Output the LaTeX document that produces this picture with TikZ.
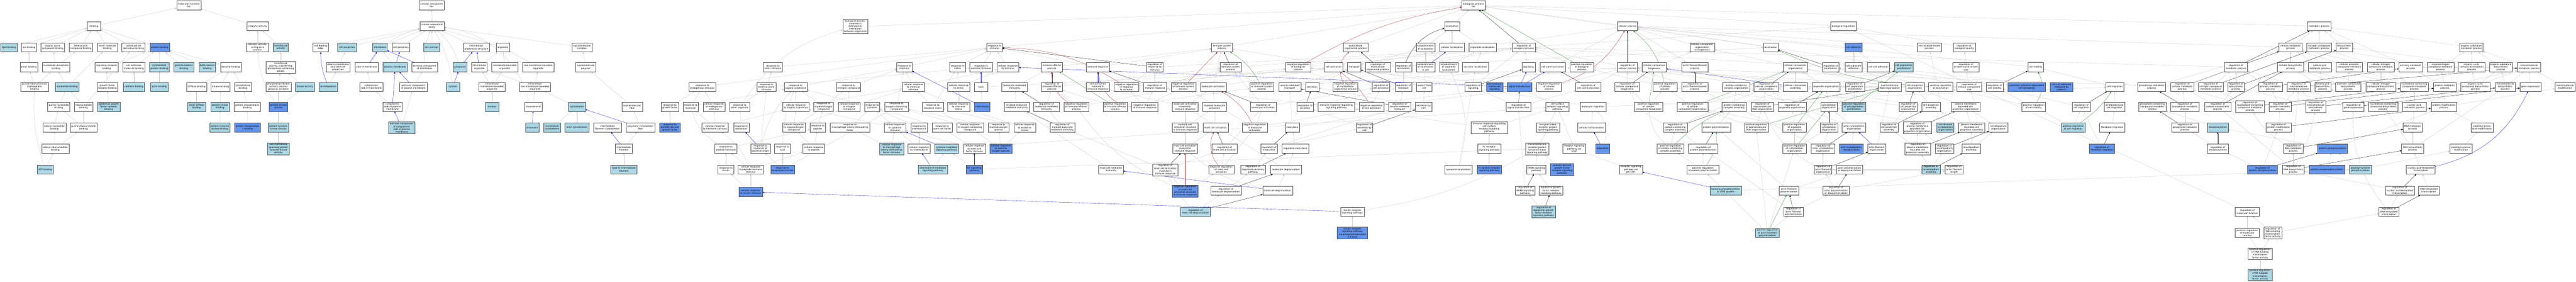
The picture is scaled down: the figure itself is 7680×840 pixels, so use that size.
\documentclass[tikz,border=0pt]{standalone}
\usepackage{fontspec}
\setmainfont{DejaVu Sans}
\usetikzlibrary{arrows.meta}
\definecolor{lblue}{HTML}{ADD8E6}
\definecolor{cblue}{HTML}{6495ED}
\definecolor{egray}{HTML}{C4C4C4}
\definecolor{fred}{HTML}{B22222}
\definecolor{fgreen}{HTML}{228B22}
\tikzstyle{term} = [draw=black!70, line width=0.7pt, fill=white, rectangle, minimum height=27pt, inner xsep=1.5pt, inner ysep=0.5pt, align=center, font=\fontsize{6.8}{7.9}\selectfont]
\tikzstyle{lhit} = [term, fill=lblue]
\tikzstyle{dhit} = [term, fill=cblue]
\tikzstyle{four} = [minimum height=35pt]
\tikzstyle{five} = [minimum height=43pt]
\tikzset{wd/.style={minimum width=#1}}
\tikzstyle{isa} = [draw=egray, line width=0.5pt, -{Triangle[length=5pt,width=4pt]}]
\tikzstyle{partof} = [isa, draw=blue]
\tikzstyle{regs} = [isa, draw=black]
\tikzstyle{negregs} = [isa, draw=fred]
\tikzstyle{posregs} = [isa, draw=fgreen]
\pgfdeclarelayer{back}
\pgfsetlayers{back,main}
\begin{document}
\begin{tikzpicture}[x=1pt,y=-1pt]
\useasboundingbox (0,0) rectangle (7680,840);
% molecular function
\node [term, wd=73] (mf) at (563,16) {molecular\_function\\Fer};
\node [term, wd=40] (bind) at (280,78) {binding};
\node [term, wd=65] (cat) at (768,78) {catalytic activity};
\node [lhit, wd=48] (lipidb) at (26.5,141) {lipid binding};
\node [term, wd=44] (ionb) at (86,141) {ion binding};
\node [term, wd=71] (orgcyc) at (157,141) {organic cyclic\\compound binding};
\node [term, wd=70] (hetcyc) at (241,141) {heterocyclic\\compound binding};
\node [term, wd=60] (smallmol) at (320,141) {small molecule\\binding};
\node [term, wd=69] (carbder) at (398,141) {carbohydrate\\derivative binding};
\node [dhit, wd=58] (protb) at (476,141) {protein binding};
\node [term, wd=66] (catprot) at (768,141) {catalytic activity,\\acting on a\\protein};
\node [lhit, wd=45] (transf) at (837,141) {transferase\\activity};
\node [term, wd=52] (anionb) at (86,200) {anion binding};
\node [term, wd=82] (nucphos) at (167,200) {nucleoside phosphate\\binding};
\node [term, wd=69] (sigrecb) at (318,200) {signaling receptor\\binding};
\node [term, wd=66] (celladhmb) at (399,200) {cell adhesion\\molecule binding};
\node [lhit, wd=58] (cytoskpb) at (475,200) {cytoskeletal\\protein binding};
\node [lhit, wd=61] (gammacat) at (548,200) {gamma-catenin\\binding};
\node [lhit, wd=50] (deltacat) at (618,200) {delta-catenin\\binding};
\node [term, wd=62] (enzb) at (688,200) {enzyme binding};
\node [term, four, wd=87] (transfp) at (837,201) {transferase\\activity, transferring\\phosphorus-containing\\groups};
\node [term, wd=82] (purtri) at (103,259) {purine ribonucleoside\\triphosphate\\binding};
\node [lhit, wd=71] (nucb) at (200,259) {nucleotide binding};
\node [term, wd=62] (gfrb) at (320,259) {growth factor\\receptor binding};
\node [lhit, wd=64] (cadb) at (399,259) {cadherin binding};
\node [lhit, wd=51] (actinb) at (475,259) {actin binding};
\node [term, wd=60] (gtpb) at (586,259) {GTPase binding};
\node [term, wd=57] (kinb) at (657.5,259) {kinase binding};
\node [term, wd=50] (phosb) at (724.5,259) {phosphatase\\binding};
\node [term, wd=75] (phtrans) at (830,259) {phosphotransferase\\activity, alcohol\\group as acceptor};
\node [lhit, wd=58] (kinact) at (909,259) {kinase activity};
\node [term, wd=66] (purnb) at (175,318) {purine nucleotide\\binding};
\node [term, wd=56] (ribnb) at (249,318) {ribonucleotide\\binding};
\node [lhit, wd=68] (egfrb) at (324,318) {epidermal growth\\factor receptor\\binding};
\node [lhit, wd=53] (sgtpb) at (586,318) {small GTPase\\binding};
\node [lhit, wd=55] (pkb) at (656,318) {protein kinase\\binding};
\node [term, wd=78] (pphb) at (737,318) {protein phosphatase\\binding};
\node [dhit, wd=55] (pkact) at (830,318) {protein kinase\\activity};
\node [term, wd=69] (adenb) at (162,380) {adenyl nucleotide\\binding};
\node [term, wd=80] (purrnb) at (249,380) {purine ribonucleotide\\binding};
\node [lhit, wd=61] (ptkb) at (655.5,380) {protein tyrosine\\kinase binding};
\node [dhit, wd=77] (pp1b) at (738,380) {protein phosphatase\\1 binding};
\node [lhit, wd=61] (ptkact) at (830,380) {protein tyrosine\\kinase activity};
\node [term, wd=82] (adenrb) at (165,443) {adenyl ribonucleotide\\binding};
\node [lhit, four, wd=64] (nmsptk) at (830,443) {non-membrane\\spanning protein\\tyrosine kinase\\activity};
\node [lhit, wd=47] (atpb) at (135,505) {ATP binding};
% cellular component
\node [term, wd=75] (cc) at (1287,16) {cellular\_component\\Fer};
\node [term, wd=73] (cae) at (1288,78) {cellular anatomical\\entity};
\node [term, wd=46] (leadedge) at (956,141) {cell leading\\edge};
\node [lhit, wd=56] (cellproj) at (1035,141) {cell projection};
\node [lhit, wd=43] (memb) at (1133,141) {membrane};
\node [term, wd=52] (periph) at (1195,141) {cell periphery};
\node [lhit, wd=48] (junction) at (1287,141) {cell junction};
\node [term, wd=79] (ias) at (1420,141) {intracellular\\anatomical structure};
\node [term, wd=40] (organelle) at (1499,141) {organelle};
\node [term, wd=60] (supcomp) at (1735,141) {supramolecular\\complex};
\node [term, wd=72] (pmbcp) at (1008,200) {plasma membrane\\bounded cell\\projection};
\node [term, wd=70] (sidemem) at (1093,200) {side of membrane};
\node [lhit, wd=72] (pm) at (1178,200) {plasma membrane};
\node [term, wd=78] (extmem) at (1266,200) {extrinsic component\\of membrane};
\node [lhit, wd=42] (cytoplasm) at (1371,200) {cytoplasm};
\node [term, wd=45] (intorg) at (1429,200) {intracellular\\organelle};
\node [term, wd=78] (mborg) at (1505,200) {membrane-bounded\\organelle};
\node [term, wd=93] (nmborg) at (1604.5,200) {non-membrane-bounded\\organelle};
\node [term, wd=60] (suppoly) at (1746.5,200) {supramolecular\\polymer};
\node [lhit, wd=56] (lamelli) at (979,259) {lamellipodium};
\node [term, wd=70] (cytside) at (1107,259) {cytoplasmic\\side of membrane};
\node [term, wd=82] (extpm) at (1232,259) {extrinsic component\\of plasma membrane};
\node [lhit, wd=40] (cytosol) at (1350,259) {cytosol};
\node [term, wd=78] (imborg) at (1467,259) {intracellular\\membrane-bounded\\organelle};
\node [term, wd=93] (inmborg) at (1595,259) {intracellular\\non-membrane-bounded\\organelle};
\node [term, wd=57] (cytsidepm) at (1170,318) {cytoplasmic\\side of plasma\\membrane};
\node [lhit, wd=40] (nucleus) at (1467,318) {nucleus};
\node [term, wd=51] (chromosome) at (1590,318) {chromosome};
\node [lhit, wd=50] (cytoskel) at (1720,318) {cytoskeleton};
\node [term, wd=60] (supfib) at (1885,318) {supramolecular\\fiber};
\node [lhit, four, wd=78] (extcytpm) at (1197.5,381) {extrinsic component\\of cytoplasmic\\side of plasma\\membrane};
\node [lhit, wd=40] (chromatin) at (1587,380) {chromatin};
\node [lhit, wd=51] (mtcyto) at (1646,380) {microtubule\\cytoskeleton};
\node [lhit, wd=71] (actcyto) at (1720,380) {actin cytoskeleton};
\node [term, wd=83] (ifcyto) at (1811,380) {intermediate\\filament cytoskeleton};
\node [term, wd=86] (polycyto) at (1909,380) {polymeric cytoskeletal\\fiber};
\node [term, wd=51] (interfil) at (1860,443) {intermediate\\filament};
\node [lhit, wd=78] (type3if) at (1860,505) {type III intermediate\\filament};
% biological process: responses
\node [term, five, wd=75] (interspec) at (2550,79) {biological process\\involved in\\interspecies\\interaction\\between organisms};
\node [term, wd=57] (rbiotic) at (2304,200) {response to\\biotic stimulus};
\node [term, wd=81] (rendo) at (2094,259) {response to\\endogenous stimulus};
\node [term, wd=56] (rextbio) at (2285,259) {response to\\external biotic\\stimulus};
\node [term, wd=69] (rorgsub) at (2372,259) {response to\\organic substance};
\node [term, wd=72] (rnitro) at (2530,259) {response to\\nitrogen compound};
\node [term, wd=53] (rgf) at (1997,318) {response to\\growth factor};
\node [term, wd=45] (rhorm) at (2059,318) {response to\\hormone};
\node [term, wd=65] (crendo) at (2129,318) {cellular response\\to endogenous\\stimulus};
\node [term, wd=59] (rother) at (2205,318) {response to\\other organism};
\node [term, wd=79] (crorgsub) at (2373,318) {cellular response\\to organic substance};
\node [term, wd=59] (rorgn) at (2455,318) {response to\\organonitrogen\\compound};
\node [term, wd=65] (crnitro) at (2531.5,318) {cellular response\\to nitrogen\\compound};
\node [dhit, wd=61] (rpdgf) at (1997,380) {response to\\platelet-derived\\growth factor};
\node [term, wd=78] (crhorm) at (2132,380) {cellular response\\to hormone stimulus};
\node [term, wd=46] (rbact) at (2210,380) {response to\\bacterium};
\node [term, wd=68] (crorgn) at (2367,380) {cellular response\\to organonitrogen\\compound};
\node [term, wd=47] (rpep) at (2438,380) {response to\\peptide};
\node [term, wd=119] (rmcsf) at (2534,380) {response to\\macrophage colony-stimulating\\factor};
\node [term, wd=66] (rpephorm) at (2164,443) {response to\\peptide hormone};
\node [term, wd=58] (rmbo) at (2267,443) {response to\\molecule of\\bacterial origin};
\node [term, wd=47] (rlipid) at (2333,443) {response to\\lipid};
\node [term, wd=65] (crpep) at (2426,443) {cellular response\\to peptide};
\node [term, wd=47] (rins) at (2164,505) {response to\\insulin};
\node [term, wd=75] (crpephorm) at (2238,505) {cellular response\\to peptide hormone\\stimulus};
\node [dhit, wd=71] (rlps) at (2333,505) {response to\\lipopolysaccharide};
\node [dhit, wd=70] (crins) at (2238,572) {cellular response\\to insulin stimulus};
\node [term, wd=46] (rstim) at (2965,141) {response to\\stimulus};
\node [term, wd=46] (rchem) at (2696,200) {response to\\chemical};
\node [term, wd=47] (rstress) at (2855,200) {response to\\stress};
\node [term, wd=67] (rext) at (2925,200) {response to\\external stimulus};
\node [term, wd=65] (crstim) at (3005,200) {cellular response\\to stimulus};
\node [term, wd=64] (immeff) at (3136,200) {immune effector\\process};
\node [term, wd=66] (crchem) at (2723,259) {cellular response\\to chemical\\stimulus};
\node [term, wd=65] (crstress) at (2858,259) {cellular response\\to stress};
\node [term, wd=40] (taxis) at (2925,259) {taxis};
\node [term, wd=76] (leukmed) at (3025,259) {leukocyte mediated\\immunity};
\node [term, wd=64] (regimmeff) at (3136,259) {regulation of\\immune effector\\process};
\node [term, wd=46] (rcyto) at (2600,318) {response to\\cytokine};
\node [term, wd=70] (roxy) at (2673,318) {response to\\oxygen-containing\\compound};
\node [term, wd=62] (roxstress) at (2781,318) {response to\\oxidative stress};
\node [term, wd=65] (crchemstress) at (2858,318) {cellular response\\to chemical\\stress};
\node [dhit, wd=46] (chemotaxis) at (2928,318) {chemotaxis};
\node [term, wd=75] (myelmed) at (3031,318) {myeloid leukocyte\\mediated immunity};
\node [term, wd=76] (regleukmed) at (3120,318) {regulation of\\leukocyte mediated\\immunity};
\node [term, wd=75] (negimmeff) at (3209,318) {negative regulation\\of immune effector\\process};
\node [term, wd=65] (crcyto) at (2668,380) {cellular response\\to cytokine\\stimulus};
\node [term, wd=49] (ril6) at (2740,380) {response to\\interleukin-6};
\node [term, wd=60] (rscf) at (2809,380) {response to\\stem cell factor};
\node [term, wd=80] (croxy) at (2892,380) {cellular response\\to oxygen-containing\\compound};
\node [term, wd=61] (rros) at (2977,380) {response to\\reactive oxygen\\species};
\node [term, wd=65] (croxstress) at (3055,380) {cellular response\\to oxidative\\stress};
\node [term, wd=74] (regmyelmed) at (3167,380) {regulation of\\myeloid leukocyte\\mediated immunity};
\node [lhit, four, wd=72] (crmcsf) at (2658,443) {cellular response\\to macrophage\\colony-stimulating\\factor stimulus};
\node [term, wd=65] (cril6) at (2740,443) {cellular response\\to interleukin-6};
\node [lhit, wd=72] (cytosig) at (2822,443) {cytokine-mediated\\signaling pathway};
\node [term, wd=66] (crscf) at (2905,443) {cellular response\\to stem cell\\factor stimulus};
\node [dhit, wd=66] (crros) at (2984,443) {cellular response\\to reactive\\oxygen species};
\node [lhit, wd=87] (il6sig) at (2781,505) {interleukin-6-mediated\\signaling pathway};
\node [dhit, wd=48] (kitsig) at (2905,505) {Kit signaling\\pathway};
% biological process: immune system
\node [term, wd=62] (imsys) at (3643,141) {immune system\\process};
\node [term, wd=69] (immresp) at (3273,200) {immune response};
\node [term, wd=49] (regrstim) at (3443,200) {regulation of\\response to\\stimulus};
\node [term, wd=62] (regimsys) at (3669,200) {regulation of\\immune system\\process};
\node [term, wd=75] (negbp) at (3870,200) {negative regulation\\of biological\\process};
\node [term, wd=69] (cellactir) at (3273,259) {cell activation\\involved in\\immune response};
\node [term, wd=74] (negrstim) at (3358,259) {negative regulation\\of response\\to stimulus};
\node [term, wd=69] (regimmresp) at (3443,259) {regulation of\\immune response};
\node [term, wd=74] (negimsys) at (3528,259) {negative regulation\\of immune system\\process};
\node [term, wd=77] (leukact) at (3617,259) {leukocyte activation};
\node [term, wd=72] (posimsys) at (3762,259) {positive regulation\\of immune system\\process};
\node [term, wd=66] (vesic) at (3845,259) {vesicle-mediated\\transport};
\node [term, wd=73] (posimmeff) at (3325,318) {positive regulation\\of immune effector\\process};
\node [term, wd=78] (negimmresp) at (3413,318) {negative regulation\\of immune response};
\node [term, wd=77] (leukactir) at (3533,318) {leukocyte activation\\involved in\\immune response};
\node [term, wd=70] (myelact) at (3621,318) {myeloid leukocyte\\activation};
\node [term, wd=77] (regleukact) at (3766,318) {regulation of\\leukocyte activation};
\node [term, wd=77] (myelcellact) at (3533,380) {myeloid cell\\activation involved\\in immune response};
\node [term, wd=75] (mastact) at (3624,380) {mast cell activation};
\node [term, wd=75] (negleukact) at (3741,380) {negative regulation\\of leukocyte\\activation};
\node [term, wd=42] (exocyt) at (3853,380) {exocytosis};
\node [term, wd=74] (mastactir) at (3533,443) {mast cell activation\\involved in\\immune response};
\node [term, wd=75] (regmastact) at (3651,443) {regulation of\\mast cell activation};
\node [term, wd=49] (regexo) at (3784,443) {regulation of\\exocytosis};
\node [term, wd=80] (regulexo) at (3862,443) {regulated exocytosis};
\node [term, wd=73] (mastmed) at (3312,505) {mast cell mediated\\immunity};
\node [term, four, wd=74] (regmastactir) at (3474,506) {regulation of\\mast cell activation\\involved in\\immune response};
\node [term, wd=75] (negmastact) at (3641,505) {negative regulation\\of mast cell\\activation};
\node [term, wd=74] (regsecpath) at (3736,505) {regulation of\\regulated secretory\\pathway};
\node [term, wd=91] (leukdegr) at (3834,505) {leukocyte degranulation};
\node [dhit, four, wd=77] (negmastactir) at (3533,569) {negative regulation\\of mast cell\\activation involved\\in immune response};
\node [term, wd=91] (regleukdegr) at (3655,568) {regulation of\\leukocyte degranulation};
\node [term, wd=89] (mastdegr) at (3809,568) {mast cell degranulation};
\node [lhit, wd=89] (regmastdegr) at (3564,631) {regulation of\\mast cell degranulation};
% biological process: localization and signaling
\node [term, wd=70] (bp) at (4393,16) {biological\_process\\Fer};
\node [term, wd=45] (local) at (4329,78) {localization};
\node [term, wd=74] (multi) at (4042,141) {multicellular\\organismal process};
\node [term, wd=55] (estloc) at (4250,141) {establishment\\of localization};
\node [term, wd=74] (cellloc) at (4329,141) {cellular localization};
\node [term, wd=82] (orgloc) at (4420,141) {organelle localization};
\node [term, wd=55] (cellact) at (3976,200) {cell activation};
\node [term, wd=40] (transport) at (4037,200) {transport};
\node [term, wd=75] (regmulti) at (4108,200) {regulation of\\multicellular\\organismal process};
\node [term, wd=49] (regloc) at (4184,200) {regulation of\\localization};
\node [term, wd=55] (estloccell) at (4250,200) {establishment\\of localization\\in cell};
\node [term, wd=55] (estorgloc) at (4319,200) {establishment\\of organelle\\localization};
\node [term, wd=79] (vacloc) at (4399,200) {vacuolar localization};
\node [term, wd=40] (secretion) at (3912,259) {secretion};
\node [term, wd=74] (negmulti) at (4011,259) {negative regulation\\of multicellular\\organismal process};
\node [term, wd=53] (regcellact) at (4117,259) {regulation of\\cell activation};
\node [term, wd=49] (regtrans) at (4184,259) {regulation of\\transport};
\node [term, wd=47] (export) at (4246,259) {export from\\cell};
\node [term, wd=49] (regsig) at (4392,259) {regulation of\\signaling};
\node [dhit, wd=50] (ecmsig) at (4456,259) {extracellular\\matrix-cell\\signaling};
\node [term, wd=48] (regsec) at (3891,318) {regulation of\\secretion};
\node [term, wd=109] (irrsig) at (3984,318) {immune response-regulating\\signaling pathway};
\node [term, wd=74] (negcellact) at (4089,318) {negative regulation\\of cell activation};
\node [term, wd=66] (regvesic) at (4173,318) {regulation of\\vesicle-mediated\\transport};
\node [term, wd=49] (secbycell) at (4244,318) {secretion by\\cell};
\node [term, wd=49] (regsecbycell) at (4068,380) {regulation of\\secretion by\\cell};
\node [term, four, wd=109] (irrcsr) at (4440,381) {immune response-regulating\\cell surface\\receptor signaling\\pathway};
\node [term, wd=70] (fcr) at (4440,443) {Fc receptor\\signaling pathway};
\node [term, wd=82] (lysoloc) at (4348,505) {lysosome localization};
\node [dhit, wd=73] (fceps) at (4440,505) {Fc-epsilon receptor\\signaling pathway};
\node [term, wd=70] (insr) at (4032,631) {insulin receptor\\signaling pathway};
\node [dhit, four, wd=91] (insrpi3k) at (4032,694) {insulin receptor\\signaling pathway\\via phosphatidylinositol\\3-kinase};
% biological process: cellular process
\node [term, wd=60] (cellproc) at (4852,78) {cellular process};
\node [term, wd=69] (regbp) at (4543,141) {regulation of\\biological process};
\node [term, wd=73] (ccob) at (5075,141) {cellular component\\organization\\or biogenesis};
\node [term, wd=40] (signaling) at (4557,200) {signaling};
\node [term, wd=75] (cellcomm) at (4629,200) {cell communication};
\node [term, wd=71] (posbp) at (4716,200) {positive regulation\\of biological\\process};
\node [term, wd=60] (regcp) at (4852,200) {regulation of\\cellular process};
\node [term, wd=72] (ccbio) at (4932,200) {cellular component\\biogenesis};
\node [term, wd=78] (afbp) at (5053,200) {actin filament-based\\process};
\node [dhit, wd=73] (sigtrans) at (4530,259) {signal transduction};
\node [term, wd=74] (negcp) at (4618,259) {negative regulation\\of cellular\\process};
\node [term, wd=75] (regcellcomm) at (4735,259) {regulation of\\cell communication};
\node [term, wd=73] (regccbio) at (4851,259) {regulation of\\cellular component\\biogenesis};
\node [term, wd=71] (poscp) at (4964,259) {positive regulation\\of cellular\\process};
\node [term, wd=78] (regafbp) at (5053,259) {regulation of\\actin filament-based\\process};
\node [term, wd=73] (regsigtrans) at (4527,318) {regulation of\\signal transduction};
\node [term, wd=69] (csrsig) at (4643,318) {cell surface\\receptor signaling\\pathway};
\node [term, wd=77] (leukmig) at (4749,318) {leukocyte migration};
\node [term, wd=85] (posccbio) at (4915,318) {positive regulation\\of cellular\\component biogenesis};
\node [term, wd=91] (posccorg) at (5046,318) {positive regulation\\of cellular\\component organization};
\node [term, wd=70] (enzrec) at (4615,380) {enzyme-linked\\receptor protein\\signaling pathway};
\node [term, wd=83] (extrav) at (4745,380) {cellular extravasation};
\node [term, wd=72] (regpcca) at (4994,380) {regulation of\\protein-containing\\complex assembly};
\node [term, wd=86] (protpoly) at (5116,380) {protein polymerization};
\node [term, four, wd=70] (rtkpath) at (4583,443) {transmembrane\\receptor protein\\tyrosine kinase\\signaling pathway};
\node [term, wd=68] (stat) at (4693,443) {receptor signaling\\pathway via\\STAT};
\node [dhit, wd=42] (diaped) at (4778,443) {diapedesis};
\node [term, wd=80] (pospcca) at (4980,443) {positive regulation\\of protein-containing\\complex assembly};
\node [term, wd=87] (regprotpoly) at (5078,443) {regulation of\\protein polymerization};
\node [term, wd=58] (erbb) at (4580,505) {ERBB signaling\\pathway};
\node [dhit, four, wd=69] (pdgfr) at (4657,505) {platelet-derived\\growth factor\\receptor signaling\\pathway};
\node [term, wd=69] (jakstat) at (4862,505) {receptor signaling\\pathway via\\JAK-STAT};
\node [term, wd=95] (posprotpoly) at (5077,505) {positive regulation\\of protein polymerization};
\node [term, wd=58] (regerbb) at (4547,568) {regulation of\\ERBB signaling\\pathway};
\node [term, wd=70] (egfr) at (4624,568) {epidermal growth\\factor receptor\\signaling pathway};
\node [lhit, wd=94] (tyrstat) at (5145,568) {tyrosine phosphorylation\\of STAT protein};
\node [lhit, four, wd=71] (regegfr) at (4602,631) {regulation of\\epidermal growth\\factor receptor\\signaling pathway};
% biological process: organization
\node [term, wd=78] (bioreg) at (5496,78) {biological regulation};
\node [term, wd=43] (locomotion) at (5279,141) {locomotion};
\node [dhit, wd=51] (celladh) at (5526,141) {cell adhesion};
\node [term, wd=72] (mtbp) at (5752,141) {microtubule-based\\process};
\node [term, wd=66] (regbq) at (5856,141) {regulation of\\biological quality};
\node [term, wd=72] (ccorg) at (5353,200) {cellular component\\organization};
\node [term, wd=49] (regloco) at (5458,200) {regulation of\\locomotion};
\node [term, wd=51] (csubadh) at (5526,200) {cell-substrate\\adhesion};
\node [term, wd=66] (ccadh) at (5600,200) {cell-cell adhesion};
\node [lhit, wd=56] (cellprolif) at (5676,200) {cell population\\proliferation};
\node [term, wd=79] (regass) at (5861,200) {regulation of\\anatomical structure\\size};
\node [term, wd=47] (motility) at (6069,200) {cell motility};
\node [term, wd=82] (pccorg) at (5176,259) {protein-containing\\complex organization};
\node [term, wd=73] (regccorg) at (5266,259) {regulation of\\cellular component\\organization};
\node [term, wd=72] (ccasm) at (5353,259) {cellular component\\assembly};
\node [term, wd=84] (orgorg) at (5444,259) {organelle organization};
\node [term, wd=57] (regprolif) at (5530,259) {regulation of\\cell population\\proliferation};
\node [term, wd=67] (supfiborg) at (5634,259) {supramolecular\\fiber organization};
\node [term, wd=55] (cporg) at (5709,259) {cell projection\\organization};
\node [term, wd=72] (posloco) at (5786,259) {positive regulation\\of locomotion};
\node [term, wd=73] (regccsize) at (5871,259) {regulation of\\cellular component\\size};
\node [term, wd=50] (regmot) at (5947,259) {regulation of\\cell motility};
\node [dhit, wd=113] (spread) at (6042,259) {substrate adhesion-dependent\\cell spreading};
\node [dhit, wd=67] (cadadh) at (6146,259) {cell-cell adhesion\\mediated by\\cadherin};
\node [term, wd=53] (migration) at (6305,259) {cell migration};
\node [term, wd=72] (pcca) at (5170,318) {protein-containing\\complex assembly};
\node [term, wd=67] (regsupfib) at (5254,318) {regulation of\\supramolecular\\fiber organization};
\node [term, wd=85] (regorgorg) at (5343,318) {regulation of\\organelle organization};
\node [term, wd=50] (cytoorg) at (5453,318) {cytoskeleton\\organization};
\node [lhit, wd=71] (posprolif) at (5527,318) {positive regulation\\of cell population\\proliferation};
\node [term, wd=55] (regcporg) at (5689,318) {regulation of\\cell projection\\organization};
\node [term, wd=55] (cpasm) at (5757,318) {cell projection\\assembly};
\node [term, wd=87] (pmbcporg) at (5860,318) {plasma membrane\\bounded cell\\projection organization};
\node [term, wd=71] (posmot) at (6063,318) {positive regulation\\of cell motility};
\node [term, wd=54] (regmig) at (6205,318) {regulation of\\cell migration};
\node [term, wd=61] (ameboid) at (6304,318) {ameboidal-type\\cell migration};
\node [term, wd=71] (possupfib) at (5236,380) {positive regulation\\of supramolecular\\fiber organization};
\node [term, wd=71] (posorgorg) at (5350,380) {positive regulation\\of organelle\\organization};
\node [term, wd=51] (regcytoorg) at (5453,380) {regulation of\\cytoskeleton\\organization};
\node [term, wd=70] (actcytoorg) at (5527,380) {actin cytoskeleton\\organization};
\node [term, wd=55] (regcpasm) at (5632,380) {regulation of\\cell projection\\assembly};
\node [term, four, wd=85] (regpmbcporg) at (5716,381) {regulation of\\plasma membrane\\bounded cell\\projection organization};
\node [lhit, wd=51] (mtcytoorg) at (5800,380) {microtubule\\cytoskeleton\\organization};
\node [term, wd=78] (pmbcpasm) at (5878,380) {plasma membrane\\bounded cell\\projection assembly};
\node [term, wd=56] (lamorg) at (5958,380) {lamellipodium\\organization};
\node [lhit, wd=71] (posmig) at (6181,380) {positive regulation\\of cell migration};
\node [term, wd=75] (fibromig) at (6297,380) {fibroblast migration};
\node [term, wd=71] (poscytoorg) at (5350,443) {positive regulation\\of cytoskeleton\\organization};
\node [term, wd=71] (regactcyto) at (5435,443) {regulation of\\actin cytoskeleton\\organization};
\node [dhit, wd=71] (actreorg) at (5519,443) {actin cytoskeleton\\reorganization};
\node [term, wd=53] (affilorg) at (5595,443) {actin filament\\organization};
\node [term, four, wd=77] (regpmbcpasm) at (5717,443) {regulation of\\plasma membrane\\bounded cell\\projection assembly};
\node [term, wd=56] (reglamorg) at (5797,443) {regulation of\\lamellipodium\\organization};
\node [term, wd=56] (lamasm) at (5877,443) {lamellipodium\\assembly};
\node [dhit, wd=75] (regfibromig) at (6267,443) {regulation of\\fibroblast migration};
\node [term, wd=53] (regaforg) at (5435,505) {regulation of\\actin filament\\organization};
\node [term, wd=78] (actpoly) at (5514,505) {actin polymerization\\or depolymerization};
\node [lhit, wd=55] (reglamasm) at (5757,505) {regulation of\\lamellipodium\\assembly};
\node [term, wd=54] (regaflen) at (5826,505) {regulation of\\actin filament\\length};
\node [term, wd=58] (afpoly) at (5333,568) {actin filament\\polymerization};
\node [term, wd=78] (regactpoly) at (5474,568) {regulation of\\actin polymerization\\or depolymerization};
\node [term, wd=58] (regafpoly) at (5347,631) {regulation of\\actin filament\\polymerization};
\node [lhit, wd=71] (posafpoly) at (5269,694) {positive regulation\\of actin filament\\polymerization};
% biological process: metabolism
\node [term, wd=70] (metab) at (6914,78) {metabolic process};
\node [term, wd=69] (cellmet) at (6829,141) {cellular metabolic\\process};
\node [term, wd=73] (nitromet) at (6914,141) {nitrogen compound\\metabolic process};
\node [term, wd=48] (biosyn) at (6989,141) {biosynthetic\\process};
\node [term, wd=70] (orgsubmet) at (7368,141) {organic substance\\metabolic process};
\node [term, wd=70] (regmet) at (6666,200) {regulation of\\metabolic process};
\node [term, wd=78] (cellbiosyn) at (6829,200) {cellular biosynthetic\\process};
\node [term, wd=70] (hetmet) at (6916,200) {heterocycle\\metabolic process};
\node [term, wd=78] (aromet) at (7004,200) {cellular aromatic\\compound metabolic\\process};
\node [term, wd=79] (cnitromet) at (7098,200) {cellular nitrogen\\compound metabolic\\process};
\node [term, wd=70] (primet) at (7187,200) {primary metabolic\\process};
\node [term, wd=80] (orgnmet) at (7276,200) {organonitrogen\\compound metabolic\\process};
\node [term, wd=80] (orgcycmet) at (7369,200) {organic cyclic\\compound metabolic\\process};
\node [term, wd=69] (orgsubbiosyn) at (7456,200) {organic substance\\biosynthetic\\process};
\node [term, wd=70] (macromet) at (7540,200) {macromolecule\\metabolic process};
\node [term, wd=83] (phosmet) at (6415,259) {phosphorus metabolic\\process};
\node [term, wd=69] (regcellmet) at (6506,259) {regulation of\\cellular metabolic\\process};
\node [term, wd=73] (regnitromet) at (6591,259) {regulation of\\nitrogen compound\\metabolic process};
\node [term, wd=49] (regbiosyn) at (6666,259) {regulation of\\biosynthetic\\process};
\node [term, wd=71] (regprimet) at (6769,259) {regulation of\\primary metabolic\\process};
\node [term, wd=70] (regmacromet) at (6853,259) {regulation of\\macromolecule\\metabolic process};
\node [term, wd=47] (hetbiosyn) at (6925,259) {heterocycle\\biosynthetic\\process};
\node [term, wd=75] (arobiosyn) at (7001,259) {aromatic compound\\biosynthetic\\process};
\node [term, wd=88] (cnitrobiosyn) at (7098,259) {cellular nitrogen\\compound biosynthetic\\process};
\node [term, wd=84] (nucmet) at (7198,259) {nucleobase-containing\\compound metabolic\\process};
\node [term, wd=67] (protmet) at (7289,259) {protein metabolic\\process};
\node [term, wd=88] (orgcycbiosyn) at (7380,259) {organic cyclic\\compound biosynthetic\\process};
\node [term, wd=60] (macrobiosyn) at (7469,259) {macromolecule\\biosynthetic\\process};
\node [term, wd=63] (geneexp) at (7544,259) {gene expression};
\node [term, wd=60] (macromod) at (7647,259) {macromolecule\\modification};
\node [term, wd=82] (phosphcont) at (6417,318) {phosphate-containing\\compound metabolic\\process};
\node [term, wd=84] (regphosmet) at (6514,318) {regulation of\\phosphorus metabolic\\process};
\node [term, wd=78] (regcellbiosyn) at (6612,318) {regulation of\\cellular biosynthetic\\process};
\node [term, four, wd=85] (regnucmet) at (6708,318) {regulation of\\nucleobase-containing\\compound metabolic\\process};
\node [term, wd=67] (regprotmet) at (6798,318) {regulation of\\protein metabolic\\process};
\node [term, four, wd=60] (regmacrobiosyn) at (6904,318) {regulation of\\macromolecule\\biosynthetic\\process};
\node [term, wd=62] (reggene) at (7016,318) {regulation of\\gene expression};
\node [term, wd=88] (nucbiosyn) at (7105,318) {nucleobase-containing\\compound biosynthetic\\process};
\node [term, wd=70] (nucacmet) at (7198,318) {nucleic acid\\metabolic process};
\node [term, wd=76] (protmod) at (7286,318) {protein modification\\process};
\node [term, wd=80] (regphosphmet) at (6514,380) {regulation of\\phosphate metabolic\\process};
\node [lhit, wd=62] (phosphoryl) at (6612,380) {phosphorylation};
\node [term, wd=76] (regprotmod) at (6793,380) {regulation of\\protein modification\\process};
\node [term, wd=57] (rnamet) at (7193,380) {RNA metabolic\\process};
\node [term, wd=66] (peptaa) at (7400,380) {peptidyl-amino\\acid modification};
\node [term, wd=62] (regphosphoryl) at (6612,443) {regulation of\\phosphorylation};
\node [term, wd=57] (regrnamet) at (6837,443) {regulation of\\RNA metabolic\\process};
\node [dhit, wd=89] (protphos) at (6954,443) {protein phosphorylation};
\node [term, wd=66] (rnabiosyn) at (7193,443) {RNA biosynthetic\\process};
\node [term, wd=66] (pepttyr) at (7337,443) {peptidyl-tyrosine\\modification};
\node [dhit, wd=89] (regprotphos) at (6745,505) {regulation of\\protein phosphorylation};
\node [term, wd=66] (regrnabiosyn) at (6837,505) {regulation of\\RNA biosynthetic\\process};
\node [dhit, wd=106] (autophos) at (6937,505) {protein autophosphorylation};
\node [lhit, wd=66] (ptyrphos) at (7037,505) {peptidyl-tyrosine\\phosphorylation};
\node [term, wd=86] (natrans) at (7217,505) {nucleic acid-templated\\transcription};
\node [term, wd=87] (regnatrans) at (7155,568) {regulation of\\nucleic acid-templated\\transcription};
\node [term, wd=60] (dnatrans) at (7241,568) {DNA-templated\\transcription};
\node [term, wd=72] (regmf) at (6700,631) {regulation of\\molecular function};
\node [term, wd=59] (regdnatrans) at (7122,631) {regulation of\\DNA-templated\\transcription};
\node [term, wd=72] (posmf) at (6700,694) {positive regulation\\of molecular\\function};
\node [term, four, wd=54] (regdbtf) at (6776,694) {regulation of\\DNA-binding\\transcription\\factor activity};
\node [term, four, wd=72] (posdbtf) at (6738,756) {positive regulation\\of DNA-binding\\transcription\\factor activity};
\node [lhit, four, wd=72] (nfkb) at (6738,819) {positive regulation\\of NF-kappaB\\transcription\\factor activity};

\begin{pgfonlayer}{back}
\fill [white] (0,0) rectangle (7680,840);
% molecular function edges
\draw [isa] (bind) -- (mf);
\draw [isa] (cat) -- (mf);
\draw [isa] (lipidb) -- (bind);
\draw [isa] (ionb) -- (bind);
\draw [isa] (orgcyc) -- (bind);
\draw [isa] (hetcyc) -- (bind);
\draw [isa] (smallmol) -- (bind);
\draw [isa] (carbder) -- (bind);
\draw [isa] (protb) -- (bind);
\draw [isa] (anionb) -- (ionb);
\draw [isa] (nucphos) -- (orgcyc);
\draw [isa] (nucphos) -- (hetcyc);
\draw [isa] (purtri) -- (anionb);
\draw [isa] (purtri) -- (nucphos);
\draw [isa] (nucb) -- (nucphos);
\draw [isa] (nucb) -- (smallmol);
\draw [isa] (purnb) -- (nucb);
\draw [isa] (ribnb) -- (nucb);
\draw [isa] (ribnb) -- (carbder);
\draw [isa] (adenb) -- (purnb);
\draw [isa] (purrnb) -- (purnb);
\draw [isa] (purrnb) -- (ribnb);
\draw [isa] (adenrb) -- (adenb);
\draw [isa] (adenrb) -- (purrnb);
\draw [isa] (atpb) -- (adenrb);
\draw [isa] (atpb) to[bend left=10] (purtri);
\draw [isa] (sigrecb) -- (protb);
\draw [isa] (celladhmb) -- (protb);
\draw [isa] (cytoskpb) -- (protb);
\draw [isa] (gammacat) -- (protb);
\draw [isa] (deltacat) -- (protb);
\draw [isa] (enzb) -- (protb);
\draw [isa] (gfrb) -- (sigrecb);
\draw [isa] (egfrb) -- (gfrb);
\draw [isa] (cadb) -- (celladhmb);
\draw [isa] (actinb) -- (cytoskpb);
\draw [isa] (gtpb) -- (enzb);
\draw [isa] (kinb) -- (enzb);
\draw [isa] (phosb) -- (enzb);
\draw [isa] (sgtpb) -- (gtpb);
\draw [isa] (pkb) -- (kinb);
\draw [isa] (ptkb) -- (pkb);
\draw [isa] (pphb) -- (phosb);
\draw [isa] (pp1b) -- (pphb);
\draw [isa] (catprot) -- (cat);
\draw [isa] (transf) -- (cat);
\draw [isa] (transfp) -- (transf);
\draw [isa] (phtrans) -- (transfp);
\draw [isa] (kinact) -- (transfp);
\draw [isa] (pkact) -- (phtrans);
\draw [isa] (pkact) -- (kinact);
\draw [isa] (pkact) to[bend left=15] (catprot);
\draw [isa] (ptkact) -- (pkact);
\draw [isa] (nmsptk) -- (ptkact);
% cellular component edges
\draw [isa] (cae) -- (cc);
\draw [isa] (leadedge) -- (cae);
\draw [isa] (cellproj) -- (cae);
\draw [isa] (memb) -- (cae);
\draw [isa] (periph) -- (cae);
\draw [isa] (junction) -- (cae);
\draw [isa] (sidemem) to[bend left=20] (cae);
\draw [isa] (extmem) to[bend left=10] (cae);
\draw [isa] (ias) -- (cae);
\draw [isa] (organelle) -- (cae);
\draw [isa] (supcomp) -- (cae);
\draw [isa] (cytoplasm) to[bend right=15] (cae);
\draw [isa] (cytosol) to[bend right=10] (cae);
\draw [isa] (chromatin) to[bend right=40] (cae);
\draw [partof] (lamelli) to[bend left=10] (leadedge);
\draw [isa] (lamelli) -- (pmbcp);
\draw [isa] (pmbcp) -- (cellproj);
\draw [partof] (sidemem) -- (memb);
\draw [isa] (pm) -- (memb);
\draw [partof] (pm) -- (periph);
\draw [partof] (extmem) -- (memb);
\draw [isa] (cytside) -- (sidemem);
\draw [partof] (extpm) -- (pm);
\draw [isa] (extpm) -- (extmem);
\draw [isa] (cytsidepm) -- (cytside);
\draw [partof] (cytsidepm) -- (pm);
\draw [partof] (extcytpm) -- (cytsidepm);
\draw [isa] (extcytpm) -- (extpm);
\draw [partof] (cytoplasm) -- (ias);
\draw [partof] (intorg) -- (ias);
\draw [partof] (cytosol) -- (cytoplasm);
\draw [isa] (intorg) -- (organelle);
\draw [isa] (mborg) -- (organelle);
\draw [isa] (nmborg) -- (organelle);
\draw [isa] (imborg) -- (intorg);
\draw [isa] (imborg) -- (mborg);
\draw [isa] (inmborg) -- (intorg);
\draw [isa] (inmborg) -- (nmborg);
\draw [isa] (nucleus) -- (imborg);
\draw [isa] (chromosome) -- (inmborg);
\draw [partof] (chromatin) -- (chromosome);
\draw [isa] (cytoskel) -- (inmborg);
\draw [isa] (mtcyto) -- (cytoskel);
\draw [isa] (actcyto) -- (cytoskel);
\draw [isa] (ifcyto) -- (cytoskel);
\draw [partof] (polycyto) -- (cytoskel);
\draw [isa] (suppoly) -- (supcomp);
\draw [isa] (supfib) -- (suppoly);
\draw [isa] (polycyto) -- (supfib);
\draw [partof] (interfil) -- (ifcyto);
\draw [isa] (interfil) -- (polycyto);
\draw [isa] (type3if) -- (interfil);
% response edges
\draw [isa] (interspec) -- (bp);
\draw [isa] (rother) to[bend left=20] (interspec);
\draw [isa] (rbiotic) -- (rstim);
\draw [isa] (rextbio) -- (rbiotic);
\draw [isa] (rextbio) -- (rext);
\draw [isa] (rendo) -- (rstim);
\draw [isa] (rorgsub) -- (rchem);
\draw [isa] (rnitro) -- (rchem);
\draw [isa] (rgf) -- (rendo);
\draw [isa] (rhorm) -- (rendo);
\draw [isa] (crendo) -- (rendo);
\draw [isa] (rhorm) -- (rorgsub);
\draw [isa] (rother) -- (rextbio);
\draw [isa] (crorgsub) -- (rorgsub);
\draw [isa] (crorgsub) -- (crchem);
\draw [isa] (rorgn) -- (rorgsub);
\draw [isa] (rorgn) -- (rnitro);
\draw [isa] (crnitro) -- (rnitro);
\draw [isa] (crnitro) -- (crchem);
\draw [isa] (rpdgf) -- (rgf);
\draw [isa] (crhorm) -- (rhorm);
\draw [isa] (crhorm) -- (crendo);
\draw [isa] (crhorm) -- (crorgsub);
\draw [isa] (rbact) -- (rother);
\draw [isa] (crorgn) -- (crorgsub);
\draw [isa] (crorgn) -- (rorgn);
\draw [isa] (crorgn) -- (crnitro);
\draw [isa] (rpep) -- (rorgn);
\draw [isa] (rmcsf) -- (rcyto);
\draw [isa] (rpephorm) to[bend left=20] (rhorm);
\draw [isa] (rpephorm) -- (rpep);
\draw [partof] (rmbo) -- (rbact);
\draw [isa] (rmbo) to[bend left=15] (rorgsub);
\draw [isa] (rmbo) -- (rextbio);
\draw [isa] (rlipid) to[bend left=10] (rorgsub);
\draw [isa] (crpep) -- (rpep);
\draw [isa] (crpep) -- (crorgn);
\draw [isa] (rins) -- (rpephorm);
\draw [isa] (crpephorm) -- (rpephorm);
\draw [isa] (crpephorm) to[bend right=15] (crhorm);
\draw [isa] (crpephorm) -- (crpep);
\draw [isa] (rlps) -- (rmbo);
\draw [isa] (rlps) -- (rlipid);
\draw [isa] (rlps) -- (roxy);
\draw [isa] (crins) -- (rins);
\draw [isa] (crins) -- (crpephorm);
\draw [partof] (insr) -- (crins);
\draw [isa] (rstim) -- (bp);
\draw [isa] (rchem) -- (rstim);
\draw [isa] (rstress) -- (rstim);
\draw [isa] (rext) -- (rstim);
\draw [isa] (crstim) -- (rstim);
\draw [isa] (crchem) -- (rchem);
\draw [isa] (crchem) -- (crstim);
\draw [isa] (roxy) -- (rchem);
\draw [partof] (chemotaxis) -- (rchem);
\draw [isa] (chemotaxis) -- (taxis);
\draw [partof] (taxis) -- (rext);
\draw [isa] (taxis) -- (locomotion);
\draw [isa] (crstress) -- (rstress);
\draw [isa] (crstress) -- (crstim);
\draw [isa] (roxstress) -- (rstress);
\draw [isa] (crchemstress) -- (crstress);
\draw [isa] (crchemstress) -- (crchem);
\draw [isa] (rcyto) -- (rorgsub);
\draw [isa] (crcyto) -- (rcyto);
\draw [isa] (crcyto) -- (crorgsub);
\draw [isa] (ril6) -- (rcyto);
\draw [isa] (rscf) -- (rcyto);
\draw [isa] (croxy) -- (roxy);
\draw [isa] (croxy) to[bend left=10] (crchem);
\draw [isa] (rros) -- (roxy);
\draw [isa] (croxstress) -- (roxstress);
\draw [isa] (croxstress) -- (crchemstress);
\draw [isa] (crmcsf) -- (crcyto);
\draw [isa] (crmcsf) -- (rmcsf);
\draw [isa] (cril6) -- (ril6);
\draw [isa] (cril6) -- (crcyto);
\draw [partof] (cytosig) -- (crcyto);
\draw [isa] (cytosig) -- (csrsig);
\draw [isa] (crscf) -- (rscf);
\draw [isa] (crscf) -- (crcyto);
\draw [isa] (crros) -- (rros);
\draw [isa] (crros) -- (croxstress);
\draw [isa] (crros) -- (croxy);
\draw [partof] (il6sig) -- (cril6);
\draw [isa] (il6sig) -- (cytosig);
\draw [partof] (kitsig) -- (crscf);
\draw [isa] (kitsig) -- (cytosig);
\draw [isa] (kitsig) -- (rtkpath);
% immune edges
\draw [isa] (immeff) -- (imsys);
\draw [isa] (leukmed) -- (immeff);
\draw [regs] (regimmeff) -- (immeff);
\draw [isa] (regimmeff) -- (regimsys);
\draw [isa] (myelmed) -- (leukmed);
\draw [isa] (regleukmed) -- (regimmeff);
\draw [regs] (regleukmed) -- (leukmed);
\draw [negregs] (negimmeff) to[bend left=30] (immeff);
\draw [isa] (negimmeff) -- (regimmeff);
\draw [isa] (negimmeff) -- (negimsys);
\draw [posregs] (posimmeff) -- (immeff);
\draw [isa] (posimmeff) -- (regimmeff);
\draw [isa] (posimmeff) -- (posimsys);
\draw [isa] (regmyelmed) -- (regleukmed);
\draw [regs] (regmyelmed) -- (myelmed);
\draw [partof] (sigtrans) -- (crstim);
\draw [isa] (imsys) -- (bp);
\draw [isa] (immresp) -- (imsys);
\draw [isa] (immresp) -- (rstim);
\draw [partof] (cellactir) -- (immresp);
\draw [isa] (cellactir) -- (cellact);
\draw [negregs] (negrstim) to[bend right=15] (rstim);
\draw [isa] (negrstim) -- (regrstim);
\draw [isa] (negrstim) -- (negbp);
\draw [regs] (regrstim) -- (rstim);
\draw [isa] (regrstim) -- (regbp);
\draw [regs] (regimmresp) -- (immresp);
\draw [isa] (regimmresp) -- (regrstim);
\draw [isa] (regimmresp) -- (regimsys);
\draw [negregs] (negimsys) -- (imsys);
\draw [isa] (negimsys) -- (regimsys);
\draw [isa] (negimsys) -- (negbp);
\draw [isa] (leukact) -- (cellact);
\draw [isa] (leukact) -- (imsys);
\draw [regs] (regimsys) -- (imsys);
\draw [isa] (regimsys) -- (regbp);
\draw [posregs] (posimsys) to[bend right=15] (imsys);
\draw [isa] (posimsys) -- (regimsys);
\draw [isa] (posimsys) -- (posbp);
\draw [negregs] (negimmresp) to[bend left=40] (immresp);
\draw [isa] (negimmresp) -- (regimmresp);
\draw [isa] (negimmresp) -- (negrstim);
\draw [isa] (negimmresp) -- (negimsys);
\draw [isa] (leukactir) -- (leukact);
\draw [isa] (leukactir) -- (cellactir);
\draw [isa] (myelact) -- (leukact);
\draw [regs] (regleukact) -- (leukact);
\draw [isa] (regleukact) -- (regimsys);
\draw [isa] (regleukact) -- (regcellact);
\draw [isa] (myelcellact) -- (leukactir);
\draw [isa] (myelcellact) -- (myelact);
\draw [isa] (mastact) -- (myelact);
\draw [negregs] (negleukact) to[bend right=15] (leukact);
\draw [isa] (negleukact) -- (regleukact);
\draw [isa] (negleukact) -- (negimsys);
\draw [isa] (negleukact) -- (negcellact);
\draw [isa] (mastactir) -- (myelcellact);
\draw [isa] (mastactir) -- (mastact);
\draw [regs] (regmastact) -- (mastact);
\draw [isa] (regmastact) -- (regleukact);
\draw [regs] (regexo) -- (exocyt);
\draw [isa] (regexo) -- (regsecbycell);
\draw [isa] (regexo) -- (regvesic);
\draw [isa] (regulexo) -- (exocyt);
\draw [isa] (mastmed) -- (myelmed);
\draw [regs] (regmastactir) -- (mastactir);
\draw [isa] (regmastactir) -- (regmastact);
\draw [isa] (regmastactir) -- (regmyelmed);
\draw [negregs] (negmastact) to[bend left=30] (mastact);
\draw [isa] (negmastact) -- (regmastact);
\draw [isa] (negmastact) -- (negleukact);
\draw [regs] (regsecpath) -- (regulexo);
\draw [isa] (regsecpath) -- (regexo);
\draw [isa] (leukdegr) -- (regulexo);
\draw [isa] (leukdegr) -- (leukactir);
\draw [negregs] (negmastactir) -- (mastactir);
\draw [isa] (negmastactir) -- (regmastactir);
\draw [isa] (negmastactir) -- (negmastact);
\draw [isa] (negmastactir) to[bend left=15] (negimmeff);
\draw [regs] (regleukdegr) -- (leukdegr);
\draw [isa] (regleukdegr) -- (regsecpath);
\draw [partof] (mastdegr) -- (mastmed);
\draw [isa] (mastdegr) -- (leukdegr);
\draw [isa] (mastdegr) to[bend left=15] (mastactir);
\draw [regs] (regmastdegr) -- (mastdegr);
\draw [isa] (regmastdegr) -- (regleukdegr);
\draw [isa] (regmastdegr) to[bend left=10] (regmastactir);
% localization and signaling edges
\draw [isa] (local) -- (bp);
\draw [isa] (multi) -- (bp);
\draw [isa] (estloc) -- (local);
\draw [isa] (cellloc) -- (local);
\draw [isa] (orgloc) -- (local);
\draw [negregs] (negbp) to[bend left=10] (bp);
\draw [isa] (negbp) -- (regbp);
\draw [isa] (cellact) -- (cellproc);
\draw [isa] (transport) -- (estloc);
\draw [regs] (regmulti) -- (multi);
\draw [isa] (regmulti) -- (regbp);
\draw [regs] (regloc) to[bend left=25] (local);
\draw [isa] (regloc) -- (regbp);
\draw [isa] (estloccell) -- (estloc);
\draw [partof] (estloccell) -- (cellloc);
\draw [isa] (estorgloc) -- (estloc);
\draw [isa] (estorgloc) -- (orgloc);
\draw [isa] (vacloc) -- (orgloc);
\draw [isa] (vesic) -- (transport);
\draw [isa] (secretion) -- (transport);
\draw [negregs] (negmulti) to[bend left=40] (multi);
\draw [isa] (negmulti) -- (regmulti);
\draw [isa] (negmulti) -- (negbp);
\draw [regs] (regcellact) -- (cellact);
\draw [isa] (regcellact) -- (regcp);
\draw [regs] (regtrans) -- (transport);
\draw [isa] (regtrans) -- (regloc);
\draw [isa] (export) -- (estloc);
\draw [regs] (regsig) -- (signaling);
\draw [isa] (regsig) -- (regbp);
\draw [isa] (ecmsig) -- (sigtrans);
\draw [regs] (regsec) -- (secretion);
\draw [isa] (regsec) -- (regtrans);
\draw [isa] (irrsig) -- (regimmresp);
\draw [isa] (irrsig) -- (sigtrans);
\draw [negregs] (negcellact) to[bend right=10] (cellact);
\draw [isa] (negcellact) -- (regcellact);
\draw [isa] (negcellact) -- (negcp);
\draw [regs] (regvesic) -- (vesic);
\draw [isa] (regvesic) -- (regtrans);
\draw [isa] (secbycell) -- (secretion);
\draw [isa] (secbycell) -- (export);
\draw [isa] (exocyt) -- (secbycell);
\draw [isa] (exocyt) -- (vesic);
\draw [regs] (regsecbycell) -- (secbycell);
\draw [isa] (regsecbycell) -- (regsec);
\draw [isa] (irrcsr) -- (irrsig);
\draw [isa] (irrcsr) -- (csrsig);
\draw [isa] (fcr) -- (irrcsr);
\draw [isa] (lysoloc) -- (vacloc);
\draw [isa] (lysoloc) to[bend right=20] (estorgloc);
\draw [isa] (fceps) -- (fcr);
\draw [isa] (insr) to[bend right=10] (rtkpath);
\draw [isa] (insrpi3k) -- (insr);
% cellular process edges
\draw [isa] (cellproc) -- (bp);
\draw [isa] (regbp) -- (bioreg);
\draw [regs] (regbp) -- (bp);
\draw [isa] (ccob) -- (cellproc);
\draw [isa] (signaling) -- (regbp);
\draw [isa] (cellcomm) -- (cellproc);
\draw [posregs] (posbp) -- (bp);
\draw [isa] (posbp) -- (regbp);
\draw [regs] (regcp) -- (cellproc);
\draw [isa] (regcp) -- (regbp);
\draw [isa] (ccbio) -- (ccob);
\draw [isa] (afbp) -- (cellproc);
\draw [partof] (sigtrans) -- (signaling);
\draw [partof] (sigtrans) -- (cellcomm);
\draw [negregs] (negcp) to[bend right=20] (cellproc);
\draw [isa] (negcp) -- (regcp);
\draw [isa] (negcp) -- (negbp);
\draw [regs] (regcellcomm) -- (cellcomm);
\draw [isa] (regcellcomm) -- (regcp);
\draw [regs] (regccbio) -- (ccbio);
\draw [isa] (regccbio) -- (regcp);
\draw [posregs] (poscp) to[bend right=20] (cellproc);
\draw [isa] (poscp) -- (regcp);
\draw [isa] (poscp) -- (posbp);
\draw [regs] (regafbp) -- (afbp);
\draw [isa] (regafbp) -- (regcp);
\draw [regs] (regsigtrans) -- (sigtrans);
\draw [isa] (regsigtrans) -- (regsig);
\draw [isa] (regsigtrans) -- (regcellcomm);
\draw [isa] (csrsig) -- (sigtrans);
\draw [isa] (leukmig) -- (migration);
\draw [isa] (leukmig) -- (imsys);
\draw [posregs] (posccbio) -- (ccbio);
\draw [isa] (posccbio) -- (regccbio);
\draw [isa] (posccbio) -- (poscp);
\draw [posregs] (posccorg) -- (ccorg);
\draw [isa] (posccorg) -- (regccorg);
\draw [isa] (posccorg) -- (poscp);
\draw [isa] (enzrec) -- (csrsig);
\draw [isa] (extrav) -- (leukmig);
\draw [regs] (regpcca) -- (pcca);
\draw [isa] (regpcca) to[bend left=20] (regccbio);
\draw [isa] (regpcca) -- (regccorg);
\draw [isa] (rtkpath) -- (enzrec);
\draw [isa] (stat) -- (csrsig);
\draw [partof] (diaped) -- (extrav);
\draw [isa] (diaped) to[bend right=30] (leukmig);
\draw [isa] (pospcca) -- (regpcca);
\draw [posregs] (pospcca) to[bend left=10] (pcca);
\draw [isa] (pospcca) to[bend left=20] (posccbio);
\draw [regs] (regprotpoly) -- (protpoly);
\draw [isa] (regprotpoly) -- (regpcca);
\draw [isa] (erbb) -- (rtkpath);
\draw [isa] (pdgfr) -- (rtkpath);
\draw [isa] (jakstat) -- (stat);
\draw [isa] (posprotpoly) -- (regprotpoly);
\draw [posregs] (posprotpoly) to[bend right=20] (protpoly);
\draw [isa] (posprotpoly) -- (pospcca);
\draw [regs] (regerbb) -- (erbb);
\draw [isa] (regerbb) -- (regsigtrans);
\draw [isa] (egfr) -- (erbb);
\draw [partof] (tyrstat) -- (jakstat);
\draw [isa] (tyrstat) -- (ptyrphos);
\draw [regs] (regegfr) -- (egfr);
\draw [isa] (regegfr) -- (regerbb);
% organization edges
\draw [isa] (bioreg) -- (bp);
\draw [isa] (locomotion) -- (bp);
\draw [isa] (celladh) -- (cellproc);
\draw [isa] (mtbp) -- (cellproc);
\draw [isa] (ccorg) -- (ccob);
\draw [regs] (regloco) -- (locomotion);
\draw [isa] (regloco) -- (regbp);
\draw [isa] (csubadh) -- (celladh);
\draw [isa] (ccadh) -- (celladh);
\draw [isa] (cellprolif) -- (cellproc);
\draw [isa] (pccorg) -- (ccorg);
\draw [regs] (regccorg) -- (ccorg);
\draw [isa] (regccorg) -- (regcp);
\draw [isa] (ccasm) -- (ccorg);
\draw [partof] (ccasm) -- (ccbio);
\draw [isa] (orgorg) -- (ccorg);
\draw [regs] (regprolif) -- (cellprolif);
\draw [isa] (regprolif) -- (regcp);
\draw [isa] (supfiborg) -- (ccorg);
\draw [isa] (cporg) -- (ccorg);
\draw [posregs] (posloco) to[bend left=10] (locomotion);
\draw [isa] (posloco) -- (regloco);
\draw [isa] (posloco) -- (posbp);
\draw [isa] (pcca) -- (pccorg);
\draw [isa] (pcca) -- (ccasm);
\draw [regs] (regsupfib) -- (supfiborg);
\draw [isa] (regsupfib) -- (regccorg);
\draw [regs] (regorgorg) -- (orgorg);
\draw [isa] (regorgorg) -- (regccorg);
\draw [isa] (cytoorg) -- (orgorg);
\draw [posregs] (posprolif) -- (cellprolif);
\draw [isa] (posprolif) -- (regprolif);
\draw [isa] (posprolif) -- (poscp);
\draw [regs] (regcporg) -- (cporg);
\draw [isa] (regcporg) -- (regccorg);
\draw [isa] (cpasm) -- (cporg);
\draw [isa] (cpasm) -- (ccasm);
\draw [isa] (protpoly) -- (pcca);
\draw [posregs] (possupfib) -- (supfiborg);
\draw [isa] (possupfib) -- (regsupfib);
\draw [isa] (possupfib) -- (posccorg);
\draw [posregs] (posorgorg) -- (orgorg);
\draw [isa] (posorgorg) -- (regorgorg);
\draw [isa] (posorgorg) -- (posccorg);
\draw [regs] (regcytoorg) -- (cytoorg);
\draw [isa] (regcytoorg) -- (regorgorg);
\draw [isa] (actcytoorg) -- (cytoorg);
\draw [isa] (actcytoorg) -- (afbp);
\draw [regs] (regcpasm) -- (cpasm);
\draw [isa] (regcpasm) -- (regcporg);
\draw [regs] (regpmbcporg) -- (pmbcporg);
\draw [isa] (regpmbcporg) -- (regcporg);
\draw [posregs] (poscytoorg) -- (cytoorg);
\draw [isa] (poscytoorg) -- (regcytoorg);
\draw [isa] (poscytoorg) -- (posorgorg);
\draw [regs] (regactcyto) -- (actcytoorg);
\draw [isa] (regactcyto) -- (regcytoorg);
\draw [isa] (regactcyto) -- (regafbp);
\draw [isa] (actreorg) -- (actcytoorg);
\draw [partof] (affilorg) -- (actcytoorg);
\draw [isa] (affilorg) -- (supfiborg);
\draw [isa] (regpmbcpasm) -- (regpmbcporg);
\draw [isa] (regpmbcpasm) -- (regcpasm);
\draw [regs] (regpmbcpasm) -- (pmbcpasm);
\draw [regs] (regaforg) -- (affilorg);
\draw [isa] (regaforg) -- (regactcyto);
\draw [isa] (regaforg) to[bend left=20] (regsupfib);
\draw [isa] (actpoly) -- (affilorg);
\draw [isa] (reglamasm) -- (regpmbcpasm);
\draw [regs] (reglamasm) -- (lamasm);
\draw [isa] (reglamasm) -- (reglamorg);
\draw [isa] (afpoly) -- (actpoly);
\draw [isa] (afpoly) -- (protpoly);
\draw [regs] (regactpoly) -- (actpoly);
\draw [isa] (regactpoly) -- (regaforg);
\draw [isa] (regactpoly) -- (regaflen);
\draw [regs] (regafpoly) -- (afpoly);
\draw [isa] (regafpoly) -- (regactpoly);
\draw [isa] (regafpoly) -- (regprotpoly);
\draw [posregs] (posafpoly) -- (afpoly);
\draw [isa] (posafpoly) -- (regafpoly);
\draw [isa] (posafpoly) -- (posprotpoly);
\draw [isa] (posafpoly) -- (possupfib);
\draw [isa] (posafpoly) -- (poscytoorg);
\draw [isa] (regbq) -- (bioreg);
\draw [isa] (regass) -- (regbq);
\draw [isa] (motility) -- (cellproc);
\draw [isa] (regccsize) -- (regass);
\draw [isa] (regccsize) -- (regccorg);
\draw [regs] (regmot) -- (motility);
\draw [isa] (regmot) -- (regloco);
\draw [isa] (spread) -- (csubadh);
\draw [isa] (cadadh) -- (ccadh);
\draw [isa] (migration) -- (motility);
\draw [isa] (pmbcporg) -- (cporg);
\draw [posregs] (posmot) to[bend right=30] (motility);
\draw [isa] (posmot) -- (regmot);
\draw [isa] (posmot) -- (posloco);
\draw [regs] (regmig) -- (migration);
\draw [isa] (regmig) -- (regmot);
\draw [isa] (ameboid) -- (migration);
\draw [isa] (mtcytoorg) -- (cytoorg);
\draw [isa] (mtcytoorg) -- (mtbp);
\draw [isa] (pmbcpasm) -- (pmbcporg);
\draw [isa] (pmbcpasm) -- (cpasm);
\draw [isa] (lamorg) -- (pmbcporg);
\draw [posregs] (posmig) to[bend right=10] (migration);
\draw [isa] (posmig) -- (regmig);
\draw [isa] (posmig) -- (posmot);
\draw [isa] (fibromig) -- (ameboid);
\draw [regs] (reglamorg) -- (lamorg);
\draw [isa] (reglamorg) -- (regpmbcporg);
\draw [isa] (lamasm) -- (pmbcpasm);
\draw [isa] (lamasm) -- (lamorg);
\draw [regs] (regfibromig) -- (fibromig);
\draw [isa] (regfibromig) -- (regmig);
\draw [isa] (regaflen) to[bend right=30] (regccsize);
\draw [isa] (regaflen) -- (regaforg);
% metabolism edges
\draw [isa] (metab) -- (bp);
\draw [isa] (cellmet) -- (metab);
\draw [isa] (cellmet) -- (cellproc);
\draw [isa] (nitromet) -- (metab);
\draw [isa] (biosyn) -- (metab);
\draw [regs] (regmet) -- (metab);
\draw [isa] (regmet) -- (regbp);
\draw [isa] (cellbiosyn) -- (cellmet);
\draw [isa] (cellbiosyn) -- (biosyn);
\draw [isa] (hetmet) -- (cellmet);
\draw [isa] (aromet) -- (cellmet);
\draw [isa] (phosmet) -- (cellmet);
\draw [regs] (regcellmet) -- (cellmet);
\draw [isa] (regcellmet) -- (regmet);
\draw [isa] (regcellmet) -- (regcp);
\draw [regs] (regnitromet) -- (nitromet);
\draw [isa] (regnitromet) -- (regmet);
\draw [regs] (regbiosyn) -- (biosyn);
\draw [isa] (regbiosyn) -- (regmet);
\draw [isa] (regprimet) -- (regmet);
\draw [regs] (regprimet) -- (primet);
\draw [isa] (regmacromet) -- (regmet);
\draw [regs] (regmacromet) -- (macromet);
\draw [isa] (hetbiosyn) -- (hetmet);
\draw [isa] (hetbiosyn) -- (cellbiosyn);
\draw [isa] (arobiosyn) -- (aromet);
\draw [isa] (arobiosyn) -- (cellbiosyn);
\draw [regs] (regphosmet) -- (phosmet);
\draw [isa] (regphosmet) -- (regcellmet);
\draw [regs] (regcellbiosyn) -- (cellbiosyn);
\draw [isa] (regcellbiosyn) -- (regbiosyn);
\draw [isa] (regcellbiosyn) -- (regcellmet);
\draw [isa] (regnucmet) -- (regcellmet);
\draw [regs] (regnucmet) -- (nucmet);
\draw [isa] (regnucmet) -- (regnitromet);
\draw [isa] (regprotmet) -- (regprimet);
\draw [isa] (regprotmet) -- (regmacromet);
\draw [regs] (regprotmet) -- (protmet);
\draw [isa] (regmacrobiosyn) -- (regmacromet);
\draw [isa] (regmacrobiosyn) -- (regbiosyn);
\draw [regs] (regmacrobiosyn) -- (macrobiosyn);
\draw [isa] (reggene) -- (regmacromet);
\draw [regs] (reggene) -- (geneexp);
\draw [regs] (regphosphmet) -- (phosphcont);
\draw [isa] (regphosphmet) -- (regphosmet);
\draw [isa] (phosphoryl) -- (phosphcont);
\draw [isa] (regprotmod) -- (regprotmet);
\draw [regs] (regprotmod) -- (protmod);
\draw [regs] (regphosphoryl) -- (phosphoryl);
\draw [isa] (regphosphoryl) -- (regphosphmet);
\draw [isa] (regrnamet) to[bend left=15] (regnucmet);
\draw [regs] (regrnamet) -- (rnamet);
\draw [isa] (regrnamet) -- (regmacromet);
\draw [isa] (protphos) -- (phosphoryl);
\draw [isa] (protphos) -- (protmod);
\draw [regs] (regprotphos) -- (protphos);
\draw [isa] (regprotphos) -- (regphosphoryl);
\draw [isa] (regprotphos) -- (regprotmod);
\draw [isa] (regrnabiosyn) -- (regrnamet);
\draw [isa] (regrnabiosyn) -- (regcellbiosyn);
\draw [isa] (regrnabiosyn) to[bend right=10] (regmacrobiosyn);
\draw [regs] (regrnabiosyn) -- (rnabiosyn);
\draw [isa] (autophos) -- (protphos);
\draw [isa] (ptyrphos) -- (protphos);
\draw [isa] (ptyrphos) -- (pepttyr);
\draw [isa] (regmf) -- (bioreg);
\draw [isa] (posmf) -- (regmf);
\draw [isa] (regdbtf) -- (regmf);
\draw [isa] (regdbtf) -- (regdnatrans);
\draw [isa] (posdbtf) -- (posmf);
\draw [isa] (posdbtf) -- (regdbtf);
\draw [isa] (nfkb) -- (posdbtf);
\draw [isa] (orgsubmet) -- (metab);
\draw [isa] (cnitromet) -- (cellmet);
\draw [isa] (cnitromet) -- (nitromet);
\draw [isa] (primet) -- (metab);
\draw [isa] (orgnmet) -- (orgsubmet);
\draw [isa] (orgnmet) -- (nitromet);
\draw [isa] (orgcycmet) -- (orgsubmet);
\draw [isa] (orgsubbiosyn) -- (orgsubmet);
\draw [isa] (orgsubbiosyn) -- (biosyn);
\draw [isa] (macromet) -- (orgsubmet);
\draw [isa] (macromet) -- (primet);
\draw [isa] (cnitrobiosyn) -- (cnitromet);
\draw [isa] (cnitrobiosyn) -- (cellbiosyn);
\draw [isa] (nucmet) -- (cnitromet);
\draw [isa] (nucmet) -- (hetmet);
\draw [isa] (nucmet) -- (aromet);
\draw [isa] (nucmet) -- (orgcycmet);
\draw [isa] (protmet) -- (primet);
\draw [isa] (protmet) -- (orgnmet);
\draw [isa] (protmet) -- (macromet);
\draw [isa] (orgcycbiosyn) -- (orgcycmet);
\draw [isa] (orgcycbiosyn) -- (orgsubbiosyn);
\draw [isa] (macrobiosyn) -- (macromet);
\draw [isa] (macrobiosyn) -- (orgsubbiosyn);
\draw [isa] (geneexp) -- (macromet);
\draw [isa] (macromod) -- (macromet);
\draw [isa] (nucbiosyn) -- (nucmet);
\draw [isa] (nucbiosyn) -- (cnitrobiosyn);
\draw [isa] (nucbiosyn) -- (hetbiosyn);
\draw [isa] (nucbiosyn) -- (arobiosyn);
\draw [isa] (nucbiosyn) -- (orgcycbiosyn);
\draw [isa] (nucacmet) -- (nucmet);
\draw [isa] (nucacmet) -- (macromet);
\draw [isa] (protmod) -- (protmet);
\draw [isa] (protmod) -- (macromod);
\draw [isa] (rnamet) -- (nucacmet);
\draw [isa] (peptaa) -- (protmod);
\draw [isa] (rnabiosyn) -- (rnamet);
\draw [isa] (rnabiosyn) -- (nucbiosyn);
\draw [isa] (rnabiosyn) -- (macrobiosyn);
\draw [isa] (pepttyr) -- (peptaa);
\draw [isa] (natrans) -- (rnabiosyn);
\draw [partof] (natrans) to[bend right=25] (geneexp);
\draw [regs] (regnatrans) -- (natrans);
\draw [isa] (regnatrans) -- (regrnabiosyn);
\draw [isa] (dnatrans) -- (natrans);
\draw [regs] (regdnatrans) -- (dnatrans);
\draw [isa] (regdnatrans) -- (regnatrans);
\draw [isa] (regdnatrans) to[bend left=20] (reggene);
\end{pgfonlayer}
\end{tikzpicture}
\end{document}
